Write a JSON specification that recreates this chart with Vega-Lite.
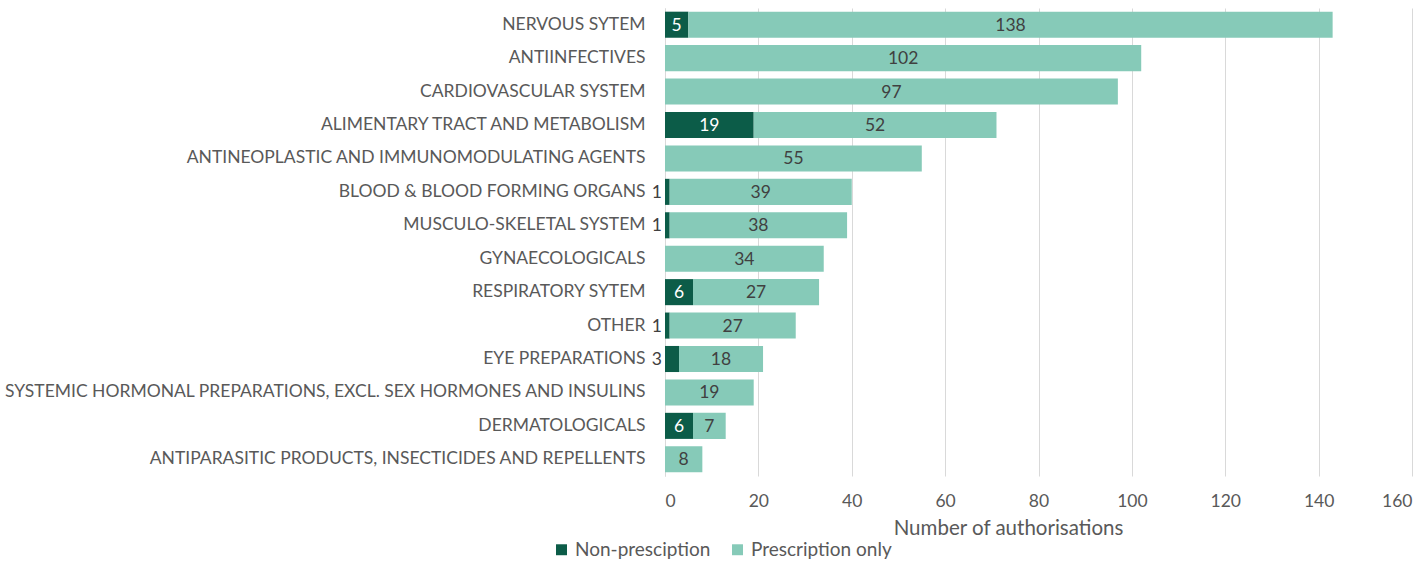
{
  "$schema": "https://vega.github.io/schema/vega-lite/v6.json",
  "autosize": {"type": "none"},
  "width": 747,
  "height": 468,
  "padding": {"left": 665, "top": 8, "right": 15, "bottom": 86},
  "background": "white",
  "config": {
    "view": {"stroke": null},
    "font": "Lato",
    "text": {"font": "Lato"}
  },
  "data": {
    "values": [
      {"category": "NERVOUS SYTEM", "type": "Non-presciption", "order": 1, "value": 5},
      {"category": "NERVOUS SYTEM", "type": "Prescription only", "order": 2, "value": 138},
      {"category": "ANTIINFECTIVES", "type": "Prescription only", "order": 2, "value": 102},
      {"category": "CARDIOVASCULAR SYSTEM", "type": "Prescription only", "order": 2, "value": 97},
      {"category": "ALIMENTARY TRACT AND METABOLISM", "type": "Non-presciption", "order": 1, "value": 19},
      {"category": "ALIMENTARY TRACT AND METABOLISM", "type": "Prescription only", "order": 2, "value": 52},
      {"category": "ANTINEOPLASTIC AND IMMUNOMODULATING AGENTS", "type": "Prescription only", "order": 2, "value": 55},
      {"category": "BLOOD & BLOOD FORMING ORGANS", "type": "Non-presciption", "order": 1, "value": 1},
      {"category": "BLOOD & BLOOD FORMING ORGANS", "type": "Prescription only", "order": 2, "value": 39},
      {"category": "MUSCULO-SKELETAL SYSTEM", "type": "Non-presciption", "order": 1, "value": 1},
      {"category": "MUSCULO-SKELETAL SYSTEM", "type": "Prescription only", "order": 2, "value": 38},
      {"category": "GYNAECOLOGICALS", "type": "Prescription only", "order": 2, "value": 34},
      {"category": "RESPIRATORY SYTEM", "type": "Non-presciption", "order": 1, "value": 6},
      {"category": "RESPIRATORY SYTEM", "type": "Prescription only", "order": 2, "value": 27},
      {"category": "OTHER", "type": "Non-presciption", "order": 1, "value": 1},
      {"category": "OTHER", "type": "Prescription only", "order": 2, "value": 27},
      {"category": "EYE PREPARATIONS", "type": "Non-presciption", "order": 1, "value": 3},
      {"category": "EYE PREPARATIONS", "type": "Prescription only", "order": 2, "value": 18},
      {"category": "SYSTEMIC HORMONAL PREPARATIONS, EXCL. SEX HORMONES AND INSULINS", "type": "Prescription only", "order": 2, "value": 19},
      {"category": "DERMATOLOGICALS", "type": "Non-presciption", "order": 1, "value": 6},
      {"category": "DERMATOLOGICALS", "type": "Prescription only", "order": 2, "value": 7},
      {"category": "ANTIPARASITIC PRODUCTS, INSECTICIDES AND REPELLENTS", "type": "Prescription only", "order": 2, "value": 8}
    ]
  },
  "transform": [
    {"stack": "value", "groupby": ["category"], "sort": [{"field": "order"}], "as": ["v0", "v1"]},
    {"calculate": "(datum.v0 + datum.v1) / 2", "as": "mid"}
  ],
  "encoding": {
    "y": {
      "field": "category",
      "type": "nominal",
      "sort": ["NERVOUS SYTEM", "ANTIINFECTIVES", "CARDIOVASCULAR SYSTEM", "ALIMENTARY TRACT AND METABOLISM", "ANTINEOPLASTIC AND IMMUNOMODULATING AGENTS", "BLOOD & BLOOD FORMING ORGANS", "MUSCULO-SKELETAL SYSTEM", "GYNAECOLOGICALS", "RESPIRATORY SYTEM", "OTHER", "EYE PREPARATIONS", "SYSTEMIC HORMONAL PREPARATIONS, EXCL. SEX HORMONES AND INSULINS", "DERMATOLOGICALS", "ANTIPARASITIC PRODUCTS, INSECTICIDES AND REPELLENTS"],
      "scale": {"paddingInner": 0.22, "paddingOuter": 0.11},
      "axis": {
        "title": null,
        "ticks": false,
        "labelPadding": 20,
        "labelFontSize": 17.5,
        "labelColor": "#595959",
        "labelFont": "Lato",
        "labelLimit": 700,
        "domain": true,
        "domainColor": "#d9d9d9",
        "grid": false
      }
    }
  },
  "layer": [
    {
      "mark": {"type": "bar"},
      "encoding": {
        "x": {
          "field": "v0",
          "type": "quantitative",
          "scale": {"domain": [0, 160], "nice": false},
          "axis": {
            "values": [0, 20, 40, 60, 80, 100, 120, 140, 160],
            "title": "Number of authorisations",
            "titleFont": "Lato",
            "titleFontSize": 20.5,
            "titleFontWeight": "normal",
            "titleColor": "#595959",
            "titleX": 343,
            "titleY": 52,
            "titleBaseline": "middle",
            "titleAnchor": "middle",
            "labelFontSize": 17.5,
            "labelColor": "#595959",
            "labelFont": "Lato",
            "labelPadding": 16,
            "ticks": false,
            "domain": false,
            "grid": true,
            "gridColor": "#d9d9d9",
            "gridWidth": 1
          }
        },
        "x2": {"field": "v1"},
        "color": {
          "field": "type",
          "type": "nominal",
          "scale": {"domain": ["Non-presciption", "Prescription only"], "range": ["#0c5c48", "#86cab8"]},
          "legend": {
            "title": null,
            "orient": "none",
            "direction": "horizontal",
            "legendX": -113,
            "legendY": 532,
            "symbolType": "square",
            "symbolSize": 120,
            "symbolStrokeWidth": 0,
            "labelFontSize": 19,
            "labelFont": "Lato",
            "labelColor": "#595959",
            "columnPadding": 17,
            "labelOffset": 4
          }
        }
      }
    },
    {
      "transform": [{"filter": "datum.value > 3"}],
      "mark": {"type": "text", "align": "center", "baseline": "middle", "fontSize": 17.5, "font": "Lato", "dy": 1},
      "encoding": {
        "x": {"field": "mid", "type": "quantitative"},
        "text": {"field": "value", "type": "quantitative"},
        "color": {
          "condition": {"test": "datum.type === 'Non-presciption'", "value": "#ffffff"},
          "value": "#404040"
        }
      }
    },
    {
      "transform": [{"filter": "datum.value <= 3"}],
      "mark": {"type": "text", "align": "right", "baseline": "middle", "fontSize": 17.5, "font": "Lato", "dx": -3, "dy": 1, "color": "#404040"},
      "encoding": {
        "x": {"field": "v0", "type": "quantitative"},
        "text": {"field": "value", "type": "quantitative"}
      }
    }
  ]
}
